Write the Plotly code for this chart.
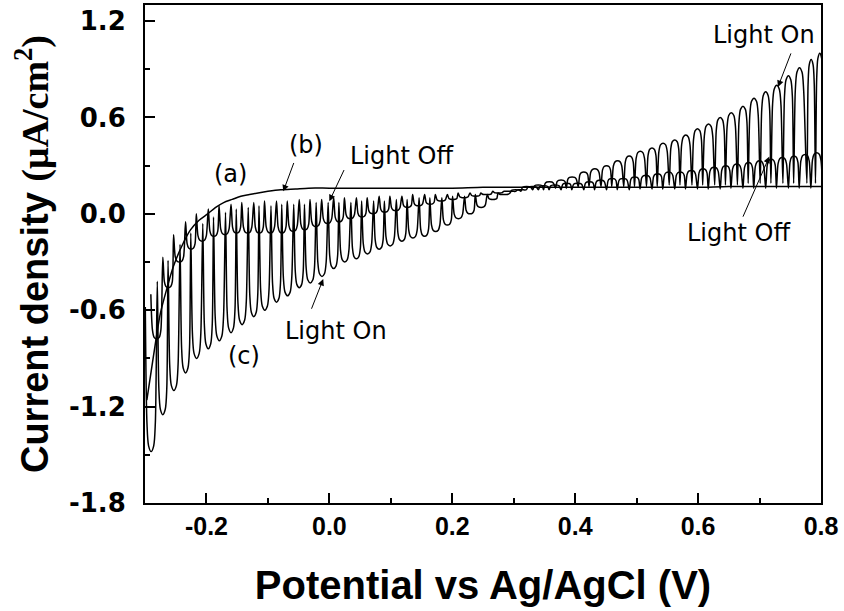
import plotly.graph_objects as go

# dark current, curve (a)
dark_v = [-0.297, -0.286, -0.275, -0.264, -0.254, -0.240, -0.226, -0.212, -0.198, -0.185,
          -0.172, -0.158, -0.144, -0.130, -0.116, -0.100, -0.079, -0.055, -0.034, 0.0,
          0.05, 0.10, 0.15, 0.20, 0.25, 0.30, 0.35, 0.40, 0.45, 0.50, 0.55, 0.60, 0.65,
          0.70, 0.75, 0.80]
dark_j = [-1.16, -0.88, -0.62, -0.46, -0.33, -0.20, -0.10, -0.04, 0.00, 0.04,
          0.07, 0.09, 0.11, 0.12, 0.13, 0.14, 0.15, 0.155, 0.16, 0.16,
          0.16, 0.16, 0.16, 0.16, 0.165, 0.165, 0.165, 0.165, 0.165, 0.165, 0.165, 0.165, 0.17,
          0.17, 0.17, 0.17]

# chopped light, curve (b): centre potential of each light pulse, current with light on / off
b_v = [-0.281, -0.262, -0.244, -0.225, -0.207, -0.188, -0.170, -0.151, -0.133, -0.114,
       -0.096, -0.077, -0.059, -0.040, -0.022, -0.003, 0.016, 0.034, 0.053, 0.071,
       0.090, 0.108, 0.127, 0.145, 0.164, 0.182, 0.201, 0.219, 0.238, 0.256,
       0.275, 0.293, 0.312, 0.330, 0.349, 0.367, 0.386, 0.404, 0.423, 0.441,
       0.460, 0.478, 0.497, 0.515, 0.534, 0.552, 0.571, 0.589, 0.608, 0.626,
       0.645, 0.663, 0.682, 0.700, 0.719, 0.737, 0.756, 0.774, 0.793]
b_on = [-0.78, -0.46, -0.30, -0.22, -0.17, -0.14, -0.13, -0.12, -0.12, -0.12,
        -0.12, -0.12, -0.11, -0.10, -0.08, -0.06, -0.05, -0.03, -0.02, 0.00,
        0.01, 0.02, 0.04, 0.05, 0.06, 0.08, 0.09, 0.10, 0.11, 0.12,
        0.13, 0.14, 0.15, 0.17, 0.175, 0.18, 0.19, 0.19, 0.20, 0.21,
        0.22, 0.22, 0.23, 0.24, 0.25, 0.26, 0.26, 0.27, 0.28, 0.29,
        0.30, 0.31, 0.32, 0.33, 0.34, 0.35, 0.36, 0.37, 0.38]
b_off = [-0.50, -0.27, -0.13, -0.05, 0.00, 0.03, 0.05, 0.06, 0.07, 0.07,
         0.08, 0.08, 0.08, 0.09, 0.09, 0.09, 0.10, 0.10, 0.10, 0.10,
         0.11, 0.11, 0.11, 0.12, 0.12, 0.12, 0.12, 0.13, 0.13, 0.13,
         0.14, 0.14, 0.14, 0.15, 0.15, 0.15, 0.15, 0.15, 0.15, 0.15,
         0.15, 0.15, 0.15, 0.155, 0.155, 0.155, 0.155, 0.155, 0.155, 0.155,
         0.155, 0.16, 0.16, 0.16, 0.16, 0.16, 0.16, 0.16, 0.16]

# chopped light, curve (c)
c_v = [-0.290, -0.271, -0.253, -0.234, -0.216, -0.197, -0.179, -0.160, -0.142, -0.123,
       -0.105, -0.086, -0.068, -0.049, -0.031, -0.012, 0.007, 0.025, 0.044, 0.062,
       0.081, 0.099, 0.118, 0.136, 0.155, 0.173, 0.192, 0.210, 0.229, 0.247,
       0.266, 0.284, 0.303, 0.321, 0.340, 0.358, 0.377, 0.395, 0.414, 0.432,
       0.451, 0.469, 0.488, 0.506, 0.525, 0.543, 0.562, 0.580, 0.599, 0.617,
       0.636, 0.654, 0.673, 0.691, 0.710, 0.728, 0.747, 0.765, 0.784, 0.798]
c_on = [-1.48, -1.25, -1.10, -0.99, -0.90, -0.84, -0.79, -0.74, -0.69, -0.64,
        -0.60, -0.55, -0.51, -0.46, -0.43, -0.39, -0.34, -0.30, -0.28, -0.25,
        -0.22, -0.20, -0.17, -0.15, -0.14, -0.11, -0.07, -0.03, 0.00, 0.04,
        0.09, 0.12, 0.15, 0.17, 0.18, 0.20, 0.21, 0.23, 0.26, 0.28,
        0.30, 0.33, 0.36, 0.39, 0.41, 0.44, 0.46, 0.49, 0.53, 0.56,
        0.60, 0.63, 0.67, 0.72, 0.76, 0.80, 0.86, 0.91, 0.96, 1.00]
c_off = [-0.58, -0.42, -0.29, -0.19, -0.12, -0.06, -0.02, 0.01, 0.03, 0.04,
         0.05, 0.05, 0.06, 0.06, 0.06, 0.07, 0.07, 0.07, 0.07, 0.08,
         0.08, 0.08, 0.09, 0.09, 0.10, 0.10, 0.10, 0.11, 0.11, 0.12,
         0.12, 0.13, 0.13, 0.14, 0.15, 0.15, 0.16, 0.16, 0.17, 0.17,
         0.17, 0.17, 0.17, 0.17, 0.17, 0.17, 0.18, 0.18, 0.18, 0.18,
         0.18, 0.18, 0.18, 0.19, 0.19, 0.19, 0.19, 0.19, 0.19, 0.19]

x_ticks = [-0.2, 0.0, 0.2, 0.4, 0.6, 0.8]
x_labels = ['-0.2', '0.0', '0.2', '0.4', '0.6', '0.8']
y_ticks = [-1.8, -1.2, -0.6, 0.0, 0.6, 1.2]
y_labels = ['-1.8', '-1.2', '-0.6', '0.0', '0.6', '1.2']

# pulse shape: fraction of the period vs how far the current has moved to the "on" value
PULSE = [(-0.5, 0.0), (-0.36, 0.8), (-0.22, 0.96), (0.0, 1.0), (0.22, 0.96), (0.36, 0.8)]


def chopped(v, on, off):
    xs, ys = [], []
    p = v[1] - v[0]
    for i, c in enumerate(v):
        p = v[i + 1] - c if i < len(v) - 1 else c - v[i - 1]
        for f, w in PULSE:
            xs.append(c + f * p)
            ys.append(off[i] + w * (on[i] - off[i]))
    xs.append(v[-1] + 0.5 * p)
    ys.append(off[-1])
    return xs, ys


fig = go.Figure()
line = dict(color='black', width=1.5, shape='spline', smoothing=0.8)
fig.add_trace(go.Scatter(x=dark_v, y=dark_j, mode='lines', line=line))
bx, by = chopped(b_v, b_on, b_off)
fig.add_trace(go.Scatter(x=bx, y=by, mode='lines', line=line))
cx, cy = chopped(c_v, c_on, c_off)
fig.add_trace(go.Scatter(x=cx, y=cy, mode='lines', line=line))

txt_font = dict(family='DejaVu Sans', size=24, color='black')
labels = [
    ('(a)', -0.161, 0.245), ('(b)', -0.038, 0.431), ('Light Off', 0.118, 0.357),
    ('Light On', 0.011, -0.728), ('(c)', -0.139, -0.883),
    ('Light On', 0.708, 1.113), ('Light Off', 0.666, -0.12),
]
for t, x, y in labels:
    fig.add_annotation(x=x, y=y, text=t, showarrow=False, font=txt_font)

# arrows: (tail x, tail y, head x, head y)
arrows = [
    (-0.057, 0.326, -0.075, 0.14),
    (0.025, 0.282, 0.0, 0.078),
    (-0.03, -0.60, -0.01, -0.406),
    (0.752, 1.008, 0.73, 0.79),
    (0.672, -0.027, 0.716, 0.357),
]
for ax, ay, x, y in arrows:
    fig.add_annotation(x=x, y=y, ax=ax, ay=ay, axref='x', ayref='y', text='',
                       showarrow=True, arrowhead=2, arrowsize=1.3, arrowwidth=1, arrowcolor='black')

fig.update_xaxes(
    range=[-0.3, 0.8], tickvals=x_ticks, ticktext=x_labels,
    ticks='inside', ticklen=10, tickwidth=1.5, tickcolor='black',
    minor=dict(ticks='inside', ticklen=5, dtick=0.1, tick0=0, tickcolor='black', tickwidth=1.5),
    showline=True, linewidth=2, linecolor='black', mirror=True, showgrid=False, zeroline=False,
    tickfont=dict(family='Liberation Sans', size=25, color='black', weight='bold'),
    ticklabelstandoff=0,
    title=dict(text='Potential vs Ag/AgCl (V)', standoff=32,
               font=dict(family='Liberation Sans', size=40, color='black', weight='bold')),
)
fig.update_yaxes(
    range=[-1.8, 1.3], tickvals=y_ticks, ticktext=y_labels,
    ticks='inside', ticklen=10, tickwidth=1.5, tickcolor='black',
    minor=dict(ticks='inside', ticklen=5, dtick=0.3, tick0=0, tickcolor='black', tickwidth=1.5),
    showline=True, linewidth=2, linecolor='black', mirror=True, showgrid=False, zeroline=False,
    tickfont=dict(family='DejaVu Sans', size=26, color='black', weight='bold'),
    ticklabelstandoff=12,
    title=dict(text="Current density <span style='font-family:Liberation Serif'>(\u03bcA/cm<sup>2</sup>)</span>",
               standoff=9,
               font=dict(family='Liberation Sans', size=38, color='black', weight='bold')),
)
fig.update_layout(
    width=844, height=611, margin=dict(l=145, r=23, t=3, b=108),
    plot_bgcolor='white', paper_bgcolor='white', showlegend=False,
)
fig.write_html('out.html', config={'displayModeBar': False},
               post_script="document.body.style.margin='0px';")
